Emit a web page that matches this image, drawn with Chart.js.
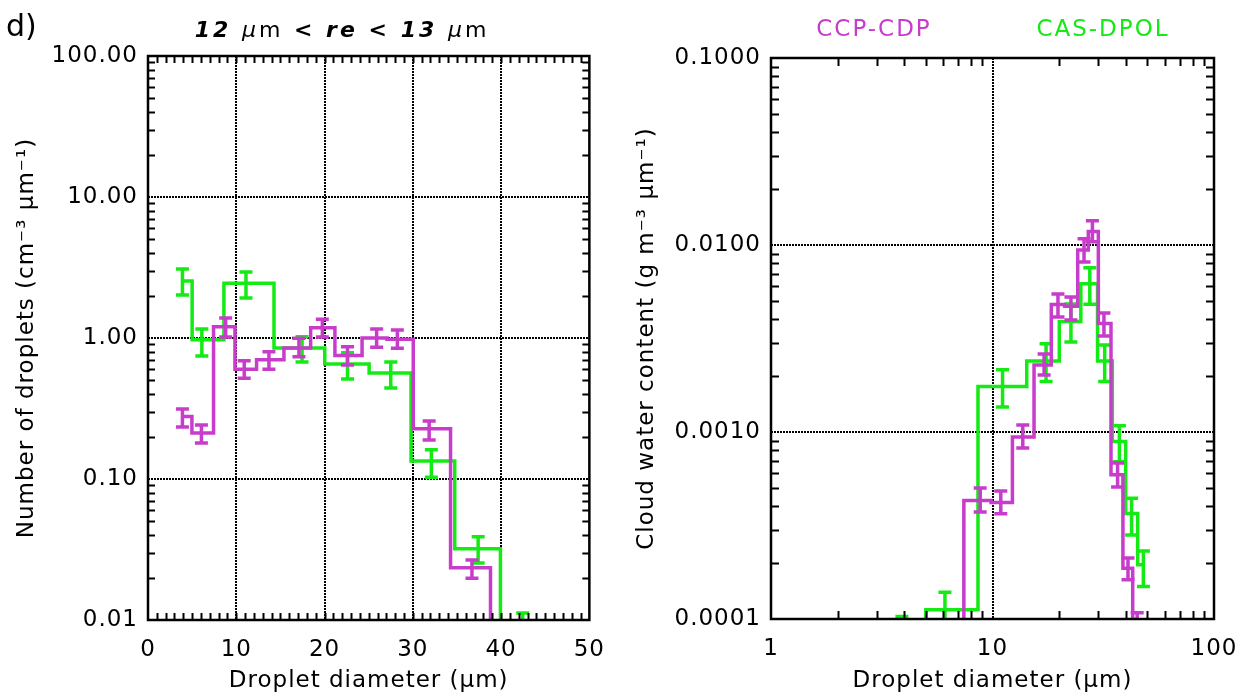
<!DOCTYPE html>
<html>
<head>
<meta charset="utf-8">
<title>Droplet size distributions</title>
<script src="https://cdn.jsdelivr.net/npm/chart.js@4.4.1/dist/chart.umd.min.js"></script>
<style>
  html, body { margin: 0; padding: 0; background: #fff; }
  #wrap { position: relative; width: 1254px; height: 695px; overflow: hidden; }
  canvas { position: absolute; top: 0; }
  #num-chart { left: 0; }
  #cwc-chart { left: 620px; }
</style>
</head>
<body>
<div id="wrap">
  <canvas id="num-chart" width="620" height="695"></canvas>
  <canvas id="cwc-chart" width="634" height="695"></canvas>
</div>
<script>
const MAGENTA = '#c83ccc';
const GREEN = '#14ea14';
const FONT = 'DejaVu Sans';

// bin centres (um)
const cdpDiam = [3.9, 6.05, 8.8, 10.9, 13.7, 17.1, 19.75, 22.6, 25.9, 28.25, 31.85, 36.7, 40.9, 45.0];
const casDiam = [3.9, 6.1, 11.1, 17.45, 22.6, 27.5, 32.1, 37.4, 42.45, 48.0];

// number of droplets (cm-3 um-1)
const cdpNum   = [0.277, 0.212, 1.20, 0.60, 0.70, 0.85, 1.18, 0.75, 1.00, 0.98, 0.227, 0.0235, 0.0054, 0.0019];
const cdpNumLo = [0.234, 0.180, 1.016, 0.518, 0.60, 0.737, 1.016, 0.643, 0.859, 0.845, 0.189, 0.0198, 0.0045, 0.0015];
const cdpNumHi = [0.314, 0.242, 1.386, 0.690, 0.80, 0.995, 1.36, 0.867, 1.158, 1.14, 0.258, 0.0266, 0.0063, 0.0023];

const casNum   = [2.54, 0.97, 2.45, 0.85, 0.654, 0.565, 0.134, 0.032, 0.009, 0.0033];
const casNumLo = [2.02, 0.745, 1.92, 0.675, 0.512, 0.442, 0.103, 0.0254, 0.0072, 0.0026];
const casNumHi = [3.09, 1.16, 2.94, 1.02, 0.787, 0.676, 0.161, 0.0389, 0.0112, 0.0041];

// cloud water content (g m-3 um-1)
const cdpCwc   = [0.000009, 0.000025, 0.00043, 0.00042, 0.00094, 0.00228, 0.0048, 0.0047, 0.0094, 0.0118, 0.0038, 0.00059, 0.000187, 0.00009];
const cdpCwcLo = [0.000007, 0.00002, 0.000373, 0.000365, 0.00082, 0.00202, 0.00412, 0.00397, 0.0081, 0.0104, 0.00326, 0.000508, 0.000162, 0.00007];
const cdpCwcHi = [0.00001, 0.00003, 0.000502, 0.000484, 0.00109, 0.00261, 0.00547, 0.00527, 0.0108, 0.0135, 0.00433, 0.000682, 0.000212, 0.000108];

const casCwc   = [0.00008, 0.000112, 0.00175, 0.0024, 0.0039, 0.0062, 0.0024, 0.00089, 0.000367, 0.000195];
const casCwcLo = [0.00006, 0.00008, 0.00136, 0.00186, 0.00303, 0.00482, 0.00186, 0.000694, 0.000281, 0.000149];
const casCwcHi = [0.000103, 0.000139, 0.00215, 0.00296, 0.00484, 0.00756, 0.00292, 0.00108, 0.000442, 0.000231];

const numTicksY = [0.01, 0.1, 1, 10, 100];
const cwcTicksY = [0.0001, 0.001, 0.01, 0.1];
const cwcTicksX = [1, 10, 100];

// histogram-style steps, changing level half way between bin centres
function histSteps(xs, ys) {
    const pts = [];
    for (let i = 0; i < xs.length; i++) {
        const left = i === 0 ? xs[0] : (xs[i - 1] + xs[i]) / 2;
        const right = i === xs.length - 1 ? xs[i] : (xs[i] + xs[i + 1]) / 2;
        pts.push({ x: left, y: ys[i] }, { x: right, y: ys[i] });
    }
    return pts;
}

function logMinor(e0, e1) {
    const out = [];
    for (let e = e0; e < e1; e++) {
        for (let k = 2; k <= 9; k++) out.push(k * Math.pow(10, e));
    }
    return out;
}

function series(label, color, xs, ys, lo, hi) {
    return {
        label,
        data: histSteps(xs, ys),
        borderColor: color,
        borderWidth: 3.5,
        pointRadius: 0,
        tension: 0,
        fill: false,
        borderJoinStyle: 'miter',
        borderCapStyle: 'butt',
        clip: 1,
        err: { x: xs, lo, hi }
    };
}

const errorBars = {
    id: 'errorBars',
    afterDatasetDraw(chart, args) {
        const ds = chart.data.datasets[args.index];
        if (!ds.err) return;
        const { ctx, chartArea: a, scales: { x, y } } = chart;
        ctx.save();
        ctx.beginPath();
        ctx.rect(a.left, a.top, a.right - a.left, a.bottom - a.top);
        ctx.clip();
        ctx.strokeStyle = ds.borderColor;
        ctx.lineWidth = 3.5;
        ctx.lineCap = 'butt';
        ds.err.x.forEach((xv, i) => {
            const px = x.getPixelForValue(xv);
            const lo = y.getPixelForValue(ds.err.lo[i]);
            const hi = y.getPixelForValue(ds.err.hi[i]);
            ctx.beginPath();
            ctx.moveTo(px, lo); ctx.lineTo(px, hi);
            ctx.moveTo(px - 6.5, lo); ctx.lineTo(px + 6.5, lo);
            ctx.moveTo(px - 6.5, hi); ctx.lineTo(px + 6.5, hi);
            ctx.stroke();
        });
        ctx.restore();
    }
};

const framePlugin = {
    id: 'frame',
    beforeDraw(chart) {
        chart.ctx.letterSpacing = '1px';
    },
    beforeDatasetsDraw(chart, args, opts) {
        const { ctx, chartArea: a, scales: { x, y } } = chart;
        ctx.save();
        ctx.strokeStyle = '#000';
        ctx.lineWidth = 2;
        ctx.setLineDash([2, 1]);
        opts.xGrid.forEach(v => {
            const px = Math.round(x.getPixelForValue(v));
            ctx.beginPath(); ctx.moveTo(px, a.top); ctx.lineTo(px, a.bottom); ctx.stroke();
        });
        opts.yGrid.forEach(v => {
            const py = Math.round(y.getPixelForValue(v));
            ctx.beginPath(); ctx.moveTo(a.left, py); ctx.lineTo(a.right, py); ctx.stroke();
        });
        ctx.restore();
    },
    afterDraw(chart, args, opts) {
        const { ctx, chartArea: a, scales: { x, y } } = chart;
        ctx.save();
        ctx.strokeStyle = '#000';
        ctx.lineWidth = 2;
        ctx.beginPath();
        opts.xMinor.forEach(v => {
            const px = Math.round(x.getPixelForValue(v)) + 0.5;
            ctx.moveTo(px, a.bottom); ctx.lineTo(px, a.bottom - opts.tick);
            ctx.moveTo(px, a.top); ctx.lineTo(px, a.top + opts.tick);
        });
        opts.yMinor.forEach(v => {
            const py = Math.round(y.getPixelForValue(v)) + 0.5;
            ctx.moveTo(a.left, py); ctx.lineTo(a.left + opts.tick, py);
            ctx.moveTo(a.right, py); ctx.lineTo(a.right - opts.tick, py);
        });
        ctx.stroke();
        ctx.lineWidth = 2.5;
        ctx.strokeRect(a.left, a.top, a.right - a.left, a.bottom - a.top);
        ctx.restore();

        (opts.texts || []).forEach(t => drawSegments(ctx, t));
    }
};

function drawSegments(ctx, t) {
    ctx.save();
    ctx.letterSpacing = t.spacing + 'px';
    ctx.textBaseline = 'middle';
    ctx.textAlign = 'left';
    let total = 0;
    const widths = t.parts.map(p => {
        ctx.font = p.font;
        const w = ctx.measureText(p.text).width;
        total += w;
        return w;
    });
    let xx = t.align === 'left' ? t.x : t.x - total / 2;
    t.parts.forEach((p, i) => {
        ctx.font = p.font;
        ctx.fillStyle = t.color || '#000';
        ctx.fillText(p.text, xx, t.y);
        xx += widths[i];
    });
    ctx.restore();
}

const tickFont = { family: FONT, size: 23 };
const titleFont = { family: FONT, size: 23 };

function yAxis(min, max, values, fmt, title, width) {
    return {
        type: 'logarithmic',
        min, max,
        afterBuildTicks: s => { s.ticks = values.map(v => ({ value: v })); },
        afterFit: s => { s.width = width; },
        grid: { display: false, drawTicks: false },
        border: { display: false },
        ticks: { font: tickFont, color: '#000', padding: 10, callback: fmt },
        title: { display: true, text: title, font: titleFont, color: '#000', padding: { top: 13, bottom: 0 } }
    };
}

function xTitle() {
    return { display: true, text: 'Droplet diameter (µm)', font: titleFont, color: '#000', padding: { top: 0, bottom: 0 } };
}

const bi = `bold italic 22px "${FONT}"`;
const it = `italic 22px "${FONT}"`;
const rg = `22px "${FONT}"`;

new Chart(document.getElementById('num-chart'), {
    type: 'line',
    data: {
        datasets: [
            series('CCP-CDP', MAGENTA, cdpDiam, cdpNum, cdpNumLo, cdpNumHi),
            series('CAS-DPOL', GREEN, casDiam, casNum, casNumLo, casNumHi)
        ]
    },
    options: {
        responsive: false,
        animation: false,
        layout: { padding: { top: 56, right: 30, left: 0, bottom: 0 } },
        scales: {
            x: {
                type: 'linear',
                min: 0, max: 50,
                afterFit: s => { s.height = 75; },
                grid: { display: false, drawTicks: false },
                border: { display: false },
                ticks: { stepSize: 10, font: tickFont, color: '#000', padding: 16, maxRotation: 0, autoSkip: false },
                title: xTitle()
            },
            y: yAxis(0.01, 100, numTicksY, v => Number(v).toFixed(2), 'Number of droplets (cm⁻³ µm⁻¹)', 148)
        },
        plugins: {
            legend: { display: false },
            tooltip: { enabled: false },
            frame: {
                tick: 7,
                xGrid: [10, 20, 30, 40],
                yGrid: [0.1, 1, 10],
                xMinor: Array.from({ length: 49 }, (_, i) => i + 1),
                yMinor: logMinor(-2, 2),
                texts: [
                    { x: 6, y: 28, align: 'left', spacing: 0, parts: [{ text: 'd)', font: `30px "${FONT}"` }] },
                    { x: 342, y: 31, spacing: 3, parts: [
                        { text: '12 ', font: bi }, { text: 'µ', font: it }, { text: 'm', font: rg },
                        { text: ' < re < 13 ', font: bi }, { text: 'µ', font: it }, { text: 'm', font: rg }
                    ] }
                ]
            }
        }
    },
    plugins: [framePlugin, errorBars]
});

new Chart(document.getElementById('cwc-chart'), {
    type: 'line',
    data: {
        datasets: [
            series('CCP-CDP', MAGENTA, cdpDiam, cdpCwc, cdpCwcLo, cdpCwcHi),
            series('CAS-DPOL', GREEN, casDiam, casCwc, casCwcLo, casCwcHi)
        ]
    },
    options: {
        responsive: false,
        animation: false,
        layout: { padding: { top: 58, right: 40, left: 0, bottom: 0 } },
        scales: {
            x: {
                type: 'logarithmic',
                min: 1, max: 100,
                afterBuildTicks: s => { s.ticks = cwcTicksX.map(v => ({ value: v })); },
                afterFit: s => { s.height = 76; },
                grid: { display: false, drawTicks: false },
                border: { display: false },
                ticks: { font: tickFont, color: '#000', padding: 16, maxRotation: 0, autoSkip: false, callback: v => String(v) },
                title: xTitle()
            },
            y: yAxis(0.0001, 0.1, cwcTicksY, v => Number(v).toFixed(4), 'Cloud water content (g m⁻³ µm⁻¹)', 151)
        },
        plugins: {
            legend: { display: false },
            tooltip: { enabled: false },
            frame: {
                tick: 8,
                xGrid: [10],
                yGrid: [0.001, 0.01],
                xMinor: logMinor(0, 2),
                yMinor: logMinor(-4, -1),
                texts: [
                    { x: 254, y: 30, spacing: 2, color: MAGENTA, parts: [{ text: 'CCP-CDP', font: `23px "${FONT}"` }] },
                    { x: 483, y: 30, spacing: 2, color: GREEN, parts: [{ text: 'CAS-DPOL', font: `23px "${FONT}"` }] }
                ]
            }
        }
    },
    plugins: [framePlugin, errorBars]
});
</script>
</body>
</html>
